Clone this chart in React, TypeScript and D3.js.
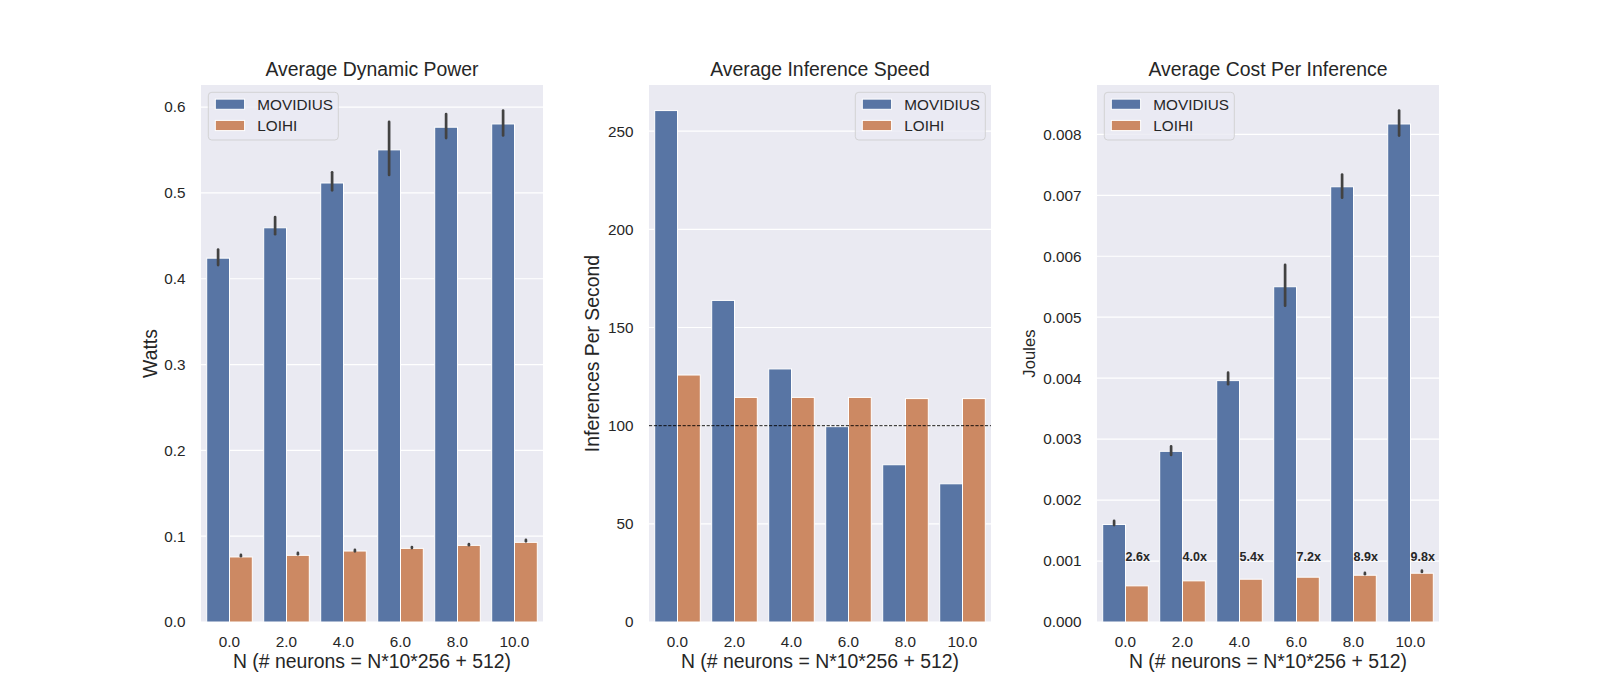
import React from "react";
import * as d3 from "d3";

// categories and series names
const categories = ["0.0", "2.0", "4.0", "6.0", "8.0", "10.0"];
const hues = ["MOVIDIUS", "LOIHI"];
const hueColors = ["#5875a4", "#cc8963"];

// Average Dynamic Power (Watts)
const powerMovidius = [0.424, 0.4594, 0.5116, 0.5502, 0.5766, 0.5804];
const powerMovidiusLo = [0.416, 0.452, 0.503, 0.521, 0.564, 0.567];
const powerMovidiusHi = [0.434, 0.472, 0.524, 0.583, 0.592, 0.596];
const powerLoihi = [0.0758, 0.0777, 0.0827, 0.0858, 0.0893, 0.0928];
const powerLoihiLo = [0.0766, 0.0789, 0.0824, 0.0861, 0.0895, 0.0940];
const powerLoihiHi = [0.0782, 0.0805, 0.0840, 0.0873, 0.0907, 0.0956];
const powerTicks = [0, 0.1, 0.2, 0.3, 0.4, 0.5, 0.6];

// Average Inference Speed (inferences per second)
const speedMovidius = [260.5, 163.8, 128.9, 99.5, 80.1, 70.4];
const speedLoihi = [125.8, 114.4, 114.4, 114.4, 113.8, 113.8];
const speedTicks = [0, 50, 100, 150, 200, 250];
const speedRefLine = 100;

// Average Cost Per Inference (Joules)
const costMovidius = [0.0016, 0.0028, 0.00396, 0.0055, 0.00714, 0.00817];
const costMovidiusLo = [0.00159, 0.00274, 0.0039, 0.00519, 0.00696, 0.00798];
const costMovidiusHi = [0.00166, 0.00288, 0.00409, 0.00586, 0.00734, 0.00839];
const costLoihi = [0.000593, 0.000675, 0.000702, 0.000735, 0.000767, 0.0008];
const costLoihiLo = [null, null, null, null, 0.000785, 0.000822];
const costLoihiHi = [null, null, null, null, 0.000805, 0.000842];
const costTicks = [0, 0.001, 0.002, 0.003, 0.004, 0.005, 0.006, 0.007, 0.008];
const costRatios = ["2.6x", "4.0x", "5.4x", "7.2x", "8.9x", "9.8x"];
const ratioLabelY = 0.001;

const FONT = "'Liberation Sans', Arial, sans-serif";
const TEXT = "#262626";
const TOP = 85;
const BOTTOM = 622;
const PANEL_W = 342;

type Series = {
  values: number[];
  lo?: (number | null)[];
  hi?: (number | null)[];
};

type PanelProps = {
  left: number;
  title: string;
  ylabel: string;
  ylabelSize: number;
  ylabelX: number;
  ticks: number[];
  fmt: (v: number) => string;
  series: Series[];
  legend: "left" | "right";
  refLine?: number;
  ratios?: string[];
};

const Panel = ({ left, title, ylabel, ylabelSize, ylabelX, ticks, fmt, series, legend, refLine, ratios }: PanelProps) => {
  const right = left + PANEL_W;
  const maxVal = d3.max(series.flatMap((s) => s.values.map((v, i) => (s.hi && s.hi[i] != null ? (s.hi[i] as number) : v)))) as number;

  const x = d3.scaleBand().domain(categories).range([left, right]).padding(0);
  const bw = x.bandwidth();
  const inner = d3.scaleBand().domain(hues).range([bw * 0.1, bw * 0.9]).padding(0);
  const y = d3.scaleLinear().domain([0, maxVal * 1.05]).range([BOTTOM, TOP]);

  const legW = 130;
  const legX = legend === "left" ? left + 7.3 : right - 5.7 - legW;
  const legY = TOP + 7.3;

  return (
    <g>
      <rect x={left} y={TOP} width={PANEL_W} height={BOTTOM - TOP} fill="#eaeaf2" />
      {ticks.map((t) => (
        <line key={t} x1={left} x2={right} y1={y(t)} y2={y(t)} stroke="#fff" strokeWidth={1.2} />
      ))}
      {series.map((s, j) =>
        s.values.map((v, i) => (
          <rect
            key={`${j}-${i}`}
            x={(x(categories[i]) as number) + (inner(hues[j]) as number)}
            y={y(v)}
            width={inner.bandwidth()}
            height={y(0) - y(v)}
            fill={hueColors[j]}
            stroke="#fff"
            strokeWidth={1}
          />
        ))
      )}
      {series.map((s, j) =>
        s.values.map((v, i) => {
          if (!s.lo || !s.hi || s.lo[i] == null || s.hi[i] == null) return null;
          const cx = (x(categories[i]) as number) + (inner(hues[j]) as number) + inner.bandwidth() / 2;
          return (
            <line
              key={`e${j}-${i}`}
              x1={cx}
              x2={cx}
              y1={y(s.lo[i] as number)}
              y2={y(s.hi[i] as number)}
              stroke="#424242"
              strokeWidth={2.7}
              strokeLinecap="round"
            />
          );
        })
      )}
      {refLine != null && (
        <line x1={left} x2={right} y1={y(refLine)} y2={y(refLine)} stroke="#000" strokeWidth={0.9} strokeDasharray="3.2,1.6" />
      )}
      {ratios &&
        ratios.map((r, i) => (
          <text
            key={r + i}
            x={(x(categories[i]) as number) + bw / 2}
            y={y(ratioLabelY)}
            fontSize={12.5}
            fontWeight="bold"
            fill={TEXT}
          >
            {r}
          </text>
        ))}
      {ticks.map((t) => (
        <text key={`yt${t}`} x={left - 15.5} y={y(t)} dy="0.35em" textAnchor="end" fontSize={15.3} fill={TEXT}>
          {fmt(t)}
        </text>
      ))}
      {categories.map((c) => (
        <text key={`xt${c}`} x={(x(c) as number) + bw / 2} y={BOTTOM + 25} textAnchor="middle" fontSize={15.3} fill={TEXT}>
          {c}
        </text>
      ))}
      <text x={(left + right) / 2} y={76} textAnchor="middle" fontSize={19.4} fill={TEXT}>
        {title}
      </text>
      <text x={(left + right) / 2} y={668} textAnchor="middle" fontSize={19.4} fill={TEXT}>
        N (# neurons = N*10*256 + 512)
      </text>
      <text
        transform={`translate(${ylabelX + ylabelSize * 0.36},${(TOP + BOTTOM) / 2}) rotate(-90)`}
        textAnchor="middle"
        fontSize={ylabelSize}
        fill={TEXT}
      >
        {ylabel}
      </text>
      <g>
        <rect x={legX} y={legY} width={legW} height={47.7} rx={3.5} fill="#eaeaf2" fillOpacity={0.8} stroke="#cccccc" strokeOpacity={0.8} />
        {hues.map((h, j) => (
          <g key={h}>
            <rect x={legX + 7} y={legY + 6.8 + j * 21.3} width={29.3} height={10.2} fill={hueColors[j]} stroke="#fff" strokeWidth={1} />
            <text x={legX + 49} y={legY + 11.9 + j * 21.3} dy="0.35em" fontSize={15.3} fill={TEXT}>
              {h}
            </text>
          </g>
        ))}
      </g>
    </g>
  );
};

const App = () => {
  return (
    <div style={{ position: "absolute", left: 0, top: 0 }}>
      <svg width={1600} height={700} style={{ display: "block", background: "#fff", fontFamily: FONT }}>
        <Panel
          left={201}
          title="Average Dynamic Power"
          ylabel="Watts"
          ylabelSize={19.4}
          ylabelX={150}
          ticks={powerTicks}
          fmt={d3.format(".1f")}
          series={[
            { values: powerMovidius, lo: powerMovidiusLo, hi: powerMovidiusHi },
            { values: powerLoihi, lo: powerLoihiLo, hi: powerLoihiHi },
          ]}
          legend="left"
        />
        <Panel
          left={649}
          title="Average Inference Speed"
          ylabel="Inferences Per Second"
          ylabelSize={19.4}
          ylabelX={591.7}
          ticks={speedTicks}
          fmt={d3.format("d")}
          series={[{ values: speedMovidius }, { values: speedLoihi }]}
          legend="right"
          refLine={speedRefLine}
        />
        <Panel
          left={1097}
          title="Average Cost Per Inference"
          ylabel="Joules"
          ylabelSize={16.7}
          ylabelX={1029.3}
          ticks={costTicks}
          fmt={d3.format(".3f")}
          series={[
            { values: costMovidius, lo: costMovidiusLo, hi: costMovidiusHi },
            { values: costLoihi, lo: costLoihiLo, hi: costLoihiHi },
          ]}
          legend="left"
          ratios={costRatios}
        />
      </svg>
    </div>
  );
};

export default App;
